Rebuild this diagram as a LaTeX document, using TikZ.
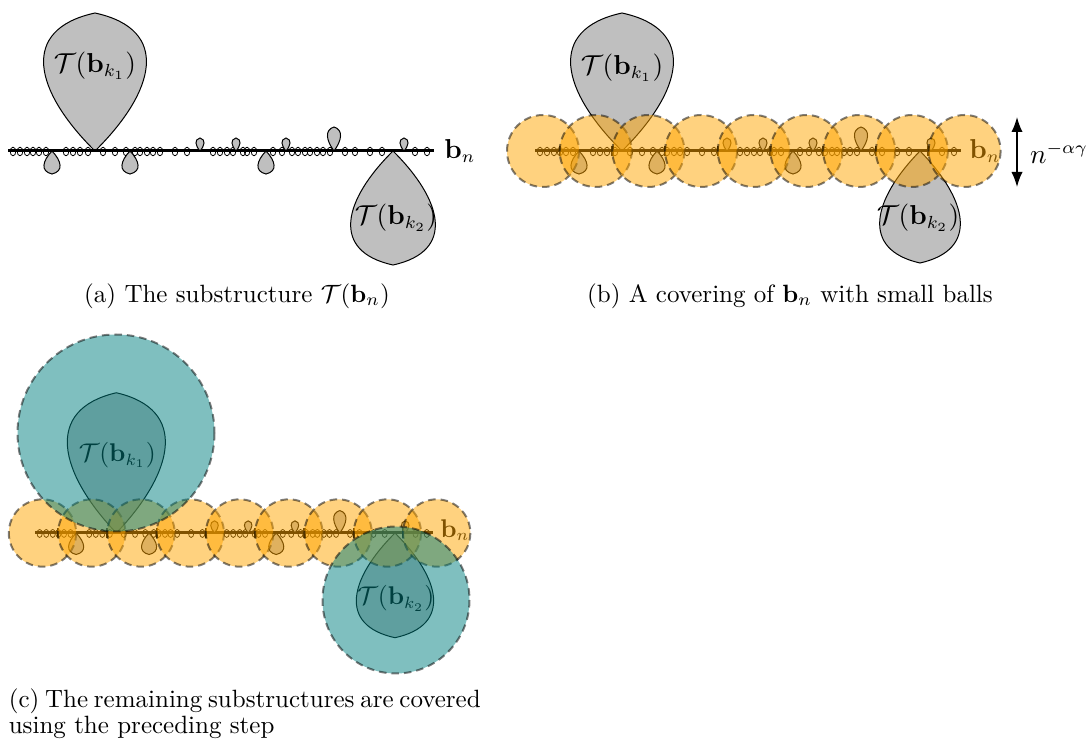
\documentclass[tikz,border=0pt]{standalone}
\usepackage{amsmath}
\usepackage{amssymb}
\usepackage{xcolor}
\usepackage{tikz}
\usetikzlibrary{positioning,arrows.meta}
\definecolor{ballorange}{RGB}{255,165,0}
\tikzset{
bline/.style={line width=1.2pt},
loopy/.style={line width=.3pt},
drop/.style={fill=black!25, draw=black, thin},
tick/.style={line width=.9pt},
ball/.style={fill=ballorange, draw=black, opacity=.5, dash pattern=on 3pt off 2pt, line width=.8pt},
bigball/.style={ball, fill=teal},
lbl/.style={font=\fontsize{10.5}{12}\selectfont},
capt/.style={font=\normalsize}
}
\newcommand{\tdrop}[3]{\begin{scope}[shift={#1}]
\filldraw[drop] (0,0) .. controls ({-1.18*#2},{0.43*#3}) and ({-1.5*#2},{0.88*#3}) .. (0,#3) .. controls ({1.5*#2},{0.88*#3}) and ({1.18*#2},{0.43*#3}) .. (0,0);
\end{scope}}
\newcommand{\strand}{
\draw[bline] (0,0) -- (426,0);
\foreach \x in {5,12,19,25,31,38,58,65,72,80,95,107,118,127,132,139,145,152,167,179,205,212,219,225,235,239,246,265,274,284,290,297,302,309,315,322,337,347,362,374,407,419}
	\draw[loopy] (\x,0.5) ellipse (2.8 and 4.3);
\foreach \x/\w/\h in {44/8/23, 122/8/23, 258/8/23, 192/4/-13, 228/4/-13, 278/4/-13, 326/6.5/-24, 396/4/-13}
	\tdrop{(\x,0)}{\w}{\h};
}
\newcommand{\ballcover}{
\foreach \k in {1,...,8}
	\draw[tick] ({52.7*\k-28},-5) -- ++(0,10);
\foreach \k in {0,...,8}
	\path[ball] ({8+52.7*\k},0) circle (36);
}

\begin{document}
\begin{tikzpicture}[x=.4pt,y=-.4pt]
\useasboundingbox (0,0) rectangle (1087,751);

\begin{scope}[shift={(8,151)}]
\tdrop{(87,0)}{51}{-138}
\tdrop{(385,0)}{42}{114}
\strand
\node[lbl] (tka1) at (87,-85) {$\mathcal{T}(\mathbf{b}_{k_1})$};
\node[lbl] (tka2) at (388,67) {$\mathcal{T}(\mathbf{b}_{k_2})$};
\node[lbl] (bna) at (452,0) {$\mathbf{b}_n$};
\end{scope}
\node[capt] (capa) at (237,296) {(a) The substructure $\mathcal{T}(\mathbf{b}_n)$};

\begin{scope}[shift={(535,151)}]
\tdrop{(87,0)}{51}{-138}
\tdrop{(385,0)}{40}{112}
\strand
\node[lbl] (tkb1) at (87,-83) {$\mathcal{T}(\mathbf{b}_{k_1})$};
\node[lbl] (tkb2) at (383,67) {$\mathcal{T}(\mathbf{b}_{k_2})$};
\node[lbl] (bnb) at (450,0) {$\mathbf{b}_n$};
\ballcover
\end{scope}
\coordinate (top) at (1017,117);
\coordinate (bot) at (1017,187);
\draw[{Latex[length=6pt,width=4.5pt]}-{Latex[length=6pt,width=4.5pt]}, line width=.6pt] (top) -- (bot);
\node[lbl] (expo) at (1059,153) {$n^{-\alpha\gamma}$};
\node[capt] (capb) at (790,296) {(b) A covering of $\mathbf{b}_n$ with small balls};

\begin{scope}[shift={(35,533)}, scale=.935, transform shape]
\tdrop{(87,0)}{52}{-150}
\tdrop{(385,0)}{41}{112}
\strand
\node[lbl] (tkc1) at (88,-83) {$\mathcal{T}(\mathbf{b}_{k_1})$};
\node[lbl] (tkc2) at (386,70) {$\mathcal{T}(\mathbf{b}_{k_2})$};
\node[lbl] (bnc) at (449,-3) {$\mathbf{b}_n$};
\ballcover
\end{scope}
\path[bigball] (116,433) circle (98.5);
\path[bigball] (396,600) circle (73.5);
\node[capt, anchor=base west] (capc1) at (0,707) {\spaceskip=2.3pt (c) The remaining substructures are covered};
\node[capt, anchor=base west] (capc2) at (0,734) {using the preceding step};
\end{tikzpicture}
\end{document}
